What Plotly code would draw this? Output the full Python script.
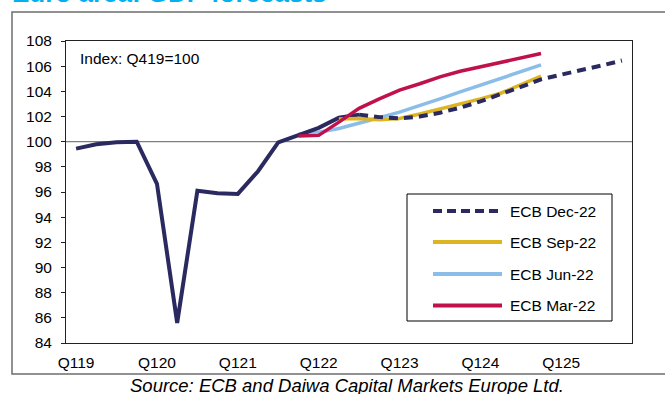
import plotly.graph_objects as go

# Quarterly categories, Q1 2019 .. Q4 2025
quarters = [f"Q{q}{y}" for y in range(19, 26) for q in range(1, 5)]
tick_labels = ["Q119", "Q120", "Q121", "Q122", "Q123", "Q124", "Q125"]

# GDP index (Q4 2019 = 100): outturn and ECB projection vintages
actual = [99.45, 99.8, 99.95, 100.0, 96.65, 85.6, 96.1, 95.9, 95.85,
          97.65, 99.95, 100.5, 101.1, 101.9, 102.15]          # Q119..Q322
dec22 = [102.15, 101.95, 101.85, 102.0, 102.3, 102.7, 103.2, 103.75,
         104.35, 104.95, 105.35, 105.7, 106.05, 106.45]       # Q322..Q425
sep22 = [101.8, 101.85, 101.75, 101.85, 102.2, 102.6, 102.95, 103.4,
         103.85, 104.5, 105.2]                                # Q222..Q424
jun22 = [100.6, 100.75, 101.05, 101.45, 101.9, 102.35, 102.85, 103.4,
         103.95, 104.5, 105.0, 105.55, 106.1]                 # Q421..Q424
mar22 = [100.45, 100.5, 101.55, 102.65, 103.4, 104.1, 104.6, 105.15,
         105.6, 105.95, 106.3, 106.6, 107.0]                  # Q421..Q424

series_names = ["ECB Dec-22", "ECB Sep-22", "ECB Jun-22", "ECB Mar-22"]
colors = ["#2A2960", "#DDB523", "#8BBDE8", "#C0114B"]

FONT = "Liberation Sans, Arial, sans-serif"


def span(values, start):
    return quarters[start:start + len(values)]


fig = go.Figure()

# Trace order sets which line sits on top where they cross
fig.add_trace(go.Scatter(x=span(jun22, 11), y=jun22, mode="lines", name=series_names[2],
                         line=dict(color=colors[2], width=3.5), showlegend=False))
fig.add_trace(go.Scatter(x=span(actual, 0), y=actual, mode="lines", name="Actual",
                         line=dict(color=colors[0], width=4), showlegend=False))
fig.add_trace(go.Scatter(x=span(sep22, 13), y=sep22, mode="lines", name=series_names[1],
                         line=dict(color=colors[1], width=3.5), showlegend=False))
fig.add_trace(go.Scatter(x=span(dec22, 14), y=dec22, mode="lines", name=series_names[0],
                         line=dict(color=colors[0], width=4, dash="9px,6px"), showlegend=False))
fig.add_trace(go.Scatter(x=span(mar22, 11), y=mar22, mode="lines", name=series_names[3],
                         line=dict(color=colors[3], width=3.5), showlegend=False))

# Pixel helpers for paper-referenced decorations (plot area 66..632 x 41..343)
L, R, T, B = 66, 632, 41, 343


def px(xp):
    return (xp - L) / (R - L)


def py(yp):
    return (B - yp) / (B - T)


shapes = [
    # outer frame of the exhibit
    dict(type="rect", xref="paper", yref="paper", x0=px(12), x1=px(672), y0=py(374), y1=py(12),
         line=dict(color="#6E6E6E", width=1.5), fillcolor="rgba(0,0,0,0)", layer="below"),
    # index base line
    dict(type="line", xref="paper", yref="y", x0=0, x1=1, y0=100, y1=100,
         line=dict(color="#7F7F7F", width=1.2), layer="below"),
    # legend box
    dict(type="rect", xref="paper", yref="paper", x0=px(407), x1=px(612), y0=py(321), y1=py(194),
         line=dict(color="black", width=1), fillcolor="white", layer="above"),
]

annotations = [
    dict(text="<b>Euro area: GDP forecasts</b>", xref="paper", yref="paper", x=px(10), y=py(10),
         xanchor="left", yanchor="bottom", showarrow=False,
         font=dict(family=FONT, size=26, color="#00B0F0")),
    dict(text="Index: Q419=100", xref="paper", yref="paper", x=px(78), y=py(59),
         xanchor="left", yanchor="middle", showarrow=False,
         font=dict(family=FONT, size=15.5, color="black")),
    dict(text="<i>Source: ECB and Daiwa Capital Markets Europe Ltd.</i>", xref="paper", yref="paper",
         x=px(347), y=py(385.5), xanchor="center", yanchor="middle", showarrow=False,
         font=dict(family=FONT, size=18.5, color="black")),
]

legend_rows = [211, 242, 274, 305.5]
legend_dash = ["9px,5px", "solid", "solid", "solid"]
for name, col, row, dsh in zip(series_names, colors, legend_rows, legend_dash):
    shapes.append(dict(type="line", xref="paper", yref="paper", x0=px(433), x1=px(502),
                       y0=py(row), y1=py(row), layer="above",
                       line=dict(color=col, width=4, dash=dsh)))
    annotations.append(dict(text=name, xref="paper", yref="paper", x=px(508), y=py(row),
                            xanchor="left", yanchor="middle", showarrow=False,
                            font=dict(family=FONT, size=15.5, color="black")))

fig.update_layout(
    width=665, height=394,
    margin=dict(l=L, r=665 - R, t=T, b=394 - B),
    paper_bgcolor="white", plot_bgcolor="white",
    font=dict(family=FONT, size=15.5, color="black"),
    showlegend=False,
    shapes=shapes,
    annotations=annotations,
    xaxis=dict(type="category", categoryorder="array", categoryarray=quarters,
               range=[-0.5, len(quarters) - 0.5],
               tickmode="array", tickvals=tick_labels, ticktext=tick_labels,
               showgrid=False, zeroline=False, ticks="", ticklabelstandoff=5,
               showline=True, linecolor="#222222", linewidth=1, mirror=True,
               tickfont=dict(family=FONT, size=15.5, color="black")),
    yaxis=dict(range=[84, 108], dtick=2, tick0=84, showgrid=False, zeroline=False,
               ticks="outside", ticklen=4, tickcolor="#222222", ticklabelstandoff=6,
               showline=True, linecolor="#222222", linewidth=1, mirror=True,
               tickfont=dict(family=FONT, size=15.5, color="black")),
)

fig.write_html("out.html")
